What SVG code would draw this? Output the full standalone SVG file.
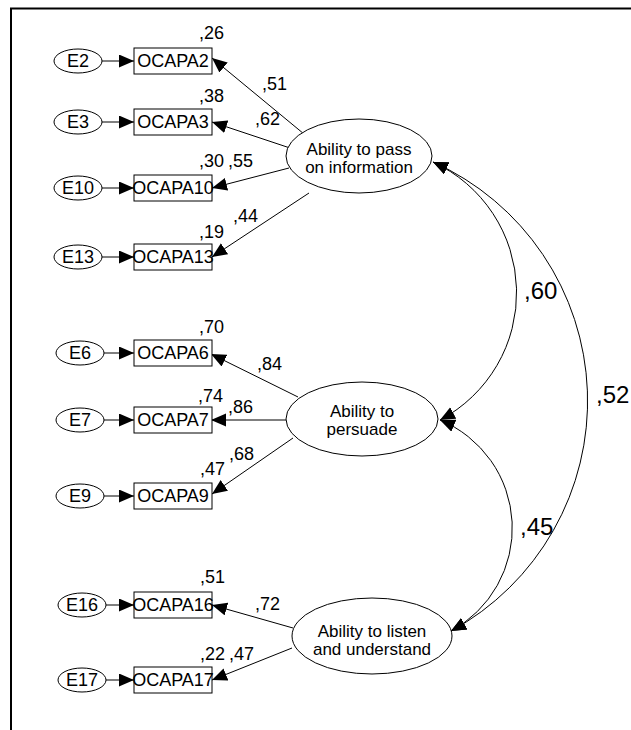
<svg xmlns="http://www.w3.org/2000/svg" width="631" height="730" viewBox="0 0 631 730">
<style>
text{font-family:"Liberation Sans",Arial,sans-serif;fill:#000}
.lbl{font-size:18px;text-anchor:middle}
.lat{font-size:17px;text-anchor:middle}
.val{font-size:18px}
.big{font-size:24px}
.node{fill:#fff;stroke:#000;stroke-width:1}
.ln{stroke:#000;stroke-width:1;fill:none}
</style>
<defs>
<marker id="ah" markerUnits="userSpaceOnUse" markerWidth="16" markerHeight="14" refX="15" refY="6.5" orient="auto-start-reverse">
<path d="M0,0 L15,6.5 L0,13 z" fill="#000"/>
</marker>
</defs>
<rect width="631" height="730" fill="#fff"/>
<path d="M11,730 V8.5 H631" fill="none" stroke="#000" stroke-width="2"/>

<g id="connectors">
<line class="ln" x1="102" y1="61" x2="134" y2="61" marker-end="url(#ah)"/>
<line class="ln" x1="102" y1="122" x2="134" y2="122" marker-end="url(#ah)"/>
<line class="ln" x1="102" y1="188" x2="134" y2="188" marker-end="url(#ah)"/>
<line class="ln" x1="102" y1="257" x2="134" y2="257" marker-end="url(#ah)"/>
<line class="ln" x1="104" y1="353" x2="134" y2="353" marker-end="url(#ah)"/>
<line class="ln" x1="104" y1="420" x2="134" y2="420" marker-end="url(#ah)"/>
<line class="ln" x1="104" y1="496" x2="134" y2="496" marker-end="url(#ah)"/>
<line class="ln" x1="106" y1="605" x2="134" y2="605" marker-end="url(#ah)"/>
<line class="ln" x1="106" y1="680" x2="134" y2="680" marker-end="url(#ah)"/>

<line class="ln" x1="304" y1="134" x2="212" y2="58" marker-end="url(#ah)"/>
<line class="ln" x1="290" y1="148" x2="212" y2="122" marker-end="url(#ah)"/>
<line class="ln" x1="289" y1="168" x2="212" y2="188" marker-end="url(#ah)"/>
<line class="ln" x1="309" y1="193" x2="212" y2="257" marker-end="url(#ah)"/>
<line class="ln" x1="298" y1="397" x2="211" y2="354" marker-end="url(#ah)"/>
<line class="ln" x1="286" y1="420" x2="211" y2="420" marker-end="url(#ah)"/>
<line class="ln" x1="293" y1="438" x2="212" y2="494" marker-end="url(#ah)"/>
<line class="ln" x1="293" y1="628" x2="212" y2="605" marker-end="url(#ah)"/>
<line class="ln" x1="292" y1="648" x2="212" y2="680" marker-end="url(#ah)"/>

<path class="ln" d="M433,162 A144,144 0 0 1 440,420" marker-start="url(#ah)" marker-end="url(#ah)"/>
<path class="ln" d="M433,162 A262,262 0 0 1 451,631" marker-start="url(#ah)" marker-end="url(#ah)"/>
<path class="ln" d="M440,420 A117,117 0 0 1 451,631" marker-start="url(#ah)" marker-end="url(#ah)"/>

<text class="val" x="262" y="90">,51</text>
<text class="val" x="255" y="125">,62</text>
<text class="val" x="228" y="167">,55</text>
<text class="val" x="233" y="222">,44</text>
<text class="val" x="257" y="370">,84</text>
<text class="val" x="228" y="413">,86</text>
<text class="val" x="229" y="460">,68</text>
<text class="val" x="255" y="610">,72</text>
<text class="val" x="229" y="660">,47</text>
<text class="big" x="524" y="299">,60</text>
<text class="big" x="596" y="403">,52</text>
<text class="big" x="520" y="535">,45</text>
</g>

<g id="E2"><ellipse class="node" cx="78" cy="61" rx="24" ry="12"/><text class="lbl" x="78" y="67">E2</text></g>
<g id="E3"><ellipse class="node" cx="78" cy="122" rx="24" ry="12"/><text class="lbl" x="78" y="128">E3</text></g>
<g id="E10"><ellipse class="node" cx="78" cy="188" rx="24" ry="12"/><text class="lbl" x="78" y="194">E10</text></g>
<g id="E13"><ellipse class="node" cx="78" cy="257" rx="24" ry="12"/><text class="lbl" x="78" y="263">E13</text></g>
<g id="E6"><ellipse class="node" cx="80" cy="353" rx="24" ry="12"/><text class="lbl" x="80" y="359">E6</text></g>
<g id="E7"><ellipse class="node" cx="80" cy="420" rx="24" ry="12"/><text class="lbl" x="80" y="426">E7</text></g>
<g id="E9"><ellipse class="node" cx="80" cy="496" rx="24" ry="12"/><text class="lbl" x="80" y="502">E9</text></g>
<g id="E16"><ellipse class="node" cx="82" cy="605" rx="24" ry="12"/><text class="lbl" x="82" y="611">E16</text></g>
<g id="E17"><ellipse class="node" cx="82" cy="680" rx="24" ry="12"/><text class="lbl" x="82" y="686">E17</text></g>

<g id="OCAPA2"><rect class="node" x="134" y="48" width="78" height="26"/><text class="lbl" x="173" y="67">OCAPA2</text><text class="val" x="199" y="39">,26</text></g>
<g id="OCAPA3"><rect class="node" x="134" y="109" width="78" height="26"/><text class="lbl" x="173" y="128">OCAPA3</text><text class="val" x="199" y="102">,38</text></g>
<g id="OCAPA10"><rect class="node" x="134" y="175" width="78" height="26"/><text class="lbl" x="173" y="194">OCAPA10</text><text class="val" x="199" y="167">,30</text></g>
<g id="OCAPA13"><rect class="node" x="134" y="244" width="78" height="26"/><text class="lbl" x="173" y="263">OCAPA13</text><text class="val" x="199" y="238">,19</text></g>
<g id="OCAPA6"><rect class="node" x="134" y="340" width="78" height="26"/><text class="lbl" x="173" y="359">OCAPA6</text><text class="val" x="199" y="333">,70</text></g>
<g id="OCAPA7"><rect class="node" x="134" y="407" width="78" height="26"/><text class="lbl" x="173" y="426">OCAPA7</text><text class="val" x="198" y="402">,74</text></g>
<g id="OCAPA9"><rect class="node" x="134" y="483" width="78" height="26"/><text class="lbl" x="173" y="502">OCAPA9</text><text class="val" x="200" y="475">,47</text></g>
<g id="OCAPA16"><rect class="node" x="134" y="592" width="78" height="26"/><text class="lbl" x="173" y="611">OCAPA16</text><text class="val" x="200" y="583">,51</text></g>
<g id="OCAPA17"><rect class="node" x="134" y="667" width="78" height="26"/><text class="lbl" x="173" y="686">OCAPA17</text><text class="val" x="200" y="660">,22</text></g>

<g id="F1"><ellipse class="node" cx="359" cy="156" rx="73" ry="37"/><text class="lat" x="359" y="155">Ability to pass</text><text class="lat" x="359" y="173">on information</text></g>
<g id="F2"><ellipse class="node" cx="362" cy="419" rx="76" ry="37"/><text class="lat" x="362" y="417">Ability to</text><text class="lat" x="362" y="435">persuade</text></g>
<g id="F3"><ellipse class="node" cx="372" cy="636" rx="80" ry="38"/><text class="lat" x="372" y="637">Ability to listen</text><text class="lat" x="372" y="655">and understand</text></g>
</svg>
